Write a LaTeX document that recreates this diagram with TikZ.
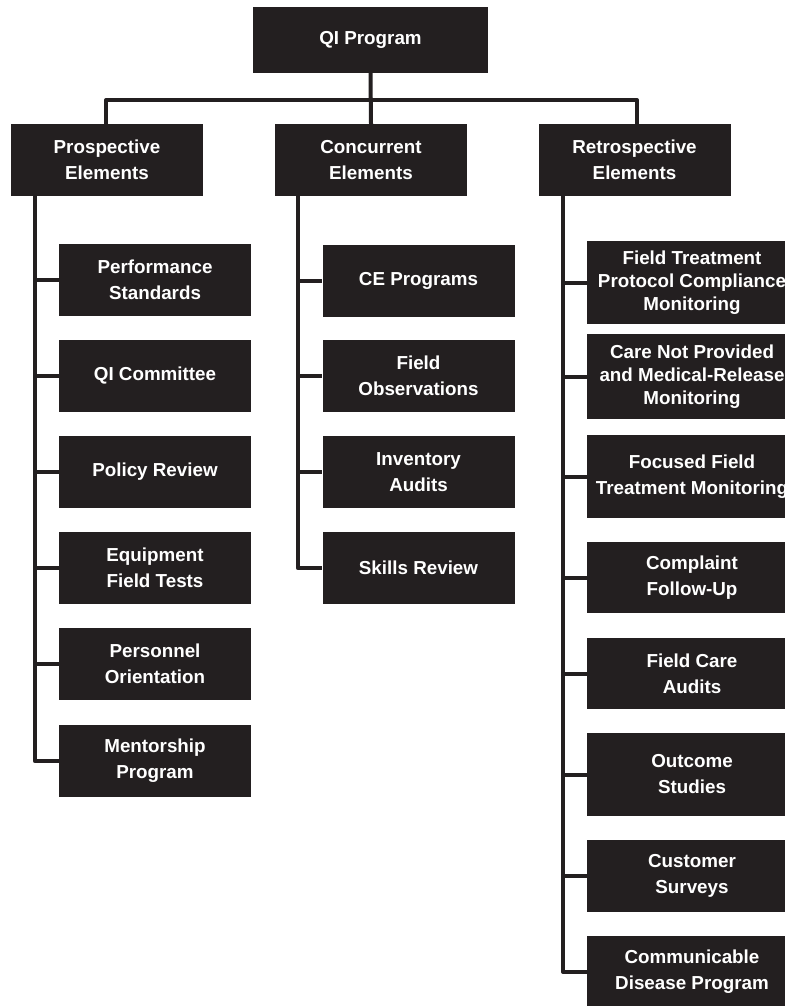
\documentclass[tikz,border=0pt]{standalone}
\usepackage{fontspec}
\setmainfont{Liberation Sans}
\definecolor{boxgray}{HTML}{231F20}

\tikzset{
  qibox/.style={rectangle,fill=boxgray,text=white,align=center,inner sep=2pt,
    font=\bfseries\fontsize{18.8}{26}\selectfont,minimum width=192pt,minimum height=72pt},
  tightbox/.style={qibox,font=\bfseries\fontsize{18.8}{23}\selectfont},
  link/.style={draw=boxgray,line width=4pt,line join=round}
}

\begin{document}
\begin{tikzpicture}[x=1pt,y=-1pt]
\useasboundingbox (0,0) rectangle (784,1006);

\node[qibox,minimum width=235pt,minimum height=66pt] (qi) at (370.5,40) {QI Program};
\node[qibox] (pro) at (107,160) {Prospective\\Elements};
\node[qibox] (con) at (371,160) {Concurrent\\Elements};
\node[qibox] (ret) at (634.5,160) {Retrospective\\Elements};

% prospective
\node[qibox] (p1) at (155,280) {Performance\\Standards};
\node[qibox] (p2) at (155,376) {QI Committee};
\node[qibox] (p3) at (155,472) {Policy Review};
\node[qibox] (p4) at (155,568) {Equipment\\Field Tests};
\node[qibox] (p5) at (155,664) {Personnel\\Orientation};
\node[qibox] (p6) at (155,761) {Mentorship\\Program};

% concurrent
\node[qibox] (c1) at (418.5,281) {CE Programs};
\node[qibox] (c2) at (418.5,376) {Field\\Observations};
\node[qibox] (c3) at (418.5,472) {Inventory\\Audits};
\node[qibox] (c4) at (418.5,568) {Skills Review};

% retrospective
\node[tightbox,minimum width=210pt,minimum height=83pt] (r1) at (692,282.5) {Field Treatment\\Protocol Compliance\\Monitoring};
\node[tightbox,minimum width=210pt,minimum height=85pt] (r2) at (692,376.5) {Care Not Provided\\and Medical-Release\\Monitoring};
\node[qibox,minimum width=210pt,minimum height=83pt] (r3) at (692,476.5) {Focused Field\\Treatment Monitoring};
\node[qibox,minimum width=210pt,minimum height=71pt] (r4) at (692,577.5) {Complaint\\Follow-Up};
\node[qibox,minimum width=210pt,minimum height=71pt] (r5) at (692,673.5) {Field Care\\Audits};
\node[qibox,minimum width=210pt,minimum height=83pt] (r6) at (692,774.5) {Outcome\\Studies};
\node[qibox,minimum width=210pt] (r7) at (692,876) {Customer\\Surveys};
\node[qibox,minimum width=210pt] (r8) at (692,972) {Communicable\\Disease Program};

\coordinate (bus) at (371,100);
\draw[link] ([xshift=-1pt]pro.north) |- (bus) -| ([xshift=2.5pt]ret.north);
\draw[link] (qi.south) -- (con.north);

\foreach \n in {p1,p2,p3,p4,p5,p6}
  \draw[link] ([xshift=24pt]pro.south west) |- (\n.west);
\foreach \n in {c1,c2,c3,c4}
  \draw[link] ([xshift=23pt]con.south west) |- (\n.west);
\foreach \n in {r1,r2,r3,r4,r5,r6,r7,r8}
  \draw[link] ([xshift=25pt]ret.south west) |- (\n.west);
\end{tikzpicture}
\end{document}
